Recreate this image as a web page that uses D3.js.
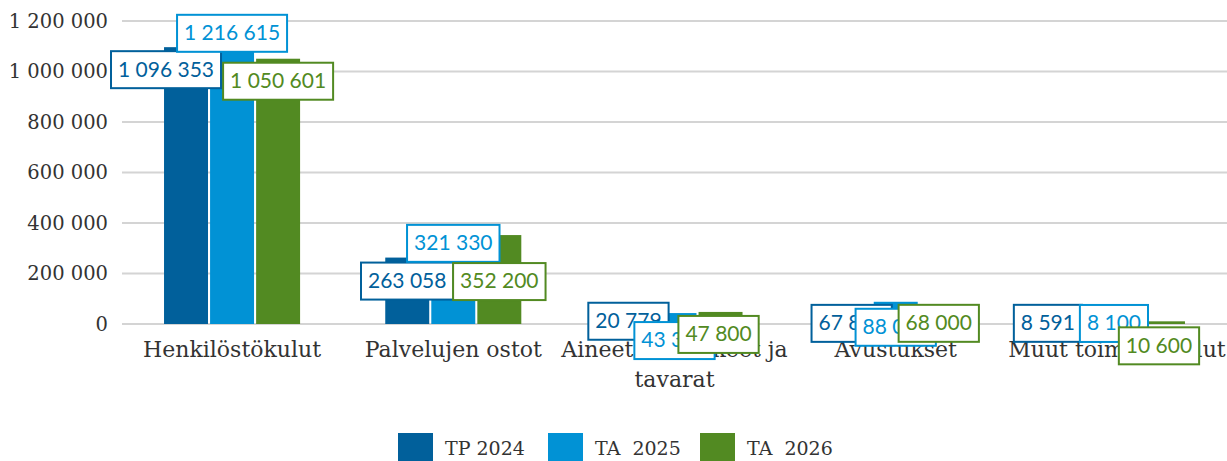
<!DOCTYPE html>
<html>
<head>
<meta charset="utf-8">
<script src="https://cdn.jsdelivr.net/npm/d3@7"></script>
<style>
  body { margin: 0; background: #fff; }
  svg { display: block; }
</style>
</head>
<body>
<script>
const categories = ["Henkilöstökulut", "Palvelujen ostot", "Aineet, tarvikkeet ja tavarat", "Avustukset", "Muut toimintakulut"];
const seriesNames = ["TP 2024", "TA  2025", "TA  2026"];
const tp2024 = [1096353, 263058, 20779, 67850, 8591];
const ta2025 = [1216615, 321330, 43300, 88000, 8100];
const ta2026 = [1050601, 352200, 47800, 68000, 10600];
const yTicks = [0, 200000, 400000, 600000, 800000, 1000000, 1200000];
const colors = ["#01609b", "#0192d5", "#528a22"];
// label nudges [dx, dy] from bar top, per series per category
const labelNudge = [
    [[-20, 22], [0, 23], [0, 2], [2, 16], [-23, 1]],
    [[0, 16], [0, 0], [0, 27], [0, 25], [-3, 1]],
    [[0, 22], [0, 46], [-2, 22], [-3, 16], [-4, 24]]
];

const width = 1227, height = 461;
const margin = { left: 122, right: 0, top: 21, bottom: 137 };
const values = [tp2024, ta2025, ta2026];
const serif = "DejaVu Serif, serif";

const svg = d3.select("body").append("svg").attr("width", width).attr("height", height);

const x = d3.scaleBand().domain(categories).range([margin.left, width]).paddingInner(0.385).paddingOuter(0.19);
const xs = d3.scaleBand().domain(d3.range(3)).range([0, x.bandwidth()]).paddingInner(0.045);
const y = d3.scaleLinear().domain([0, 1200000]).range([324, 21]);

const fmt = d => d3.format(",")(d).replace(/,/g, " ");

// grid
svg.append("g").selectAll("line").data(yTicks).join("line")
    .attr("x1", margin.left).attr("x2", width)
    .attr("y1", d => y(d)).attr("y2", d => y(d))
    .attr("stroke", "#d4d4d4").attr("stroke-width", 2);

// y axis labels
const yAxis = d3.axisLeft(y).tickValues(yTicks).tickFormat(fmt).tickSize(0).tickPadding(14);
svg.append("g").attr("transform", `translate(${margin.left},0)`).call(yAxis)
    .call(g => g.select(".domain").remove())
    .selectAll("text")
    .attr("font-family", serif).attr("font-size", 19.5).attr("fill", "#333");

// bars
const groups = svg.append("g").selectAll("g").data(categories).join("g")
    .attr("transform", d => `translate(${x(d)},0)`);
groups.selectAll("rect").data((c, i) => values.map((s, k) => ({ k, v: s[i] }))).join("rect")
    .attr("x", d => xs(d.k)).attr("width", xs.bandwidth())
    .attr("y", d => y(d.v)).attr("height", d => y(0) - y(d.v))
    .attr("fill", d => colors[d.k]);

// category labels
const xAxis = svg.append("g").attr("transform", `translate(0,${y(0)})`)
    .call(d3.axisBottom(x).tickSize(0).tickPadding(17));
xAxis.select(".domain").remove();
xAxis.selectAll("text")
    .attr("font-family", serif).attr("font-size", 22).attr("fill", "#333")
    .each(function (d) {
        if (d === "Aineet, tarvikkeet ja tavarat") {
            const t = d3.select(this).text(null);
            t.append("tspan").attr("x", 0).attr("dy", "0.71em").text("Aineet, tarvikkeet ja");
            t.append("tspan").attr("x", 0).attr("dy", "1.4em").text("tavarat");
            t.attr("dy", null);
        }
    });

// data labels, drawn series by series so later ones cover earlier
values.forEach((s, k) => {
    s.forEach((v, i) => {
        const cx = x(categories[i]) + xs(k) + xs.bandwidth() / 2 + labelNudge[k][i][0];
        const cy = y(v) + labelNudge[k][i][1];
        const g = svg.append("g").attr("transform", `translate(${cx},${cy})`);
        const rect = g.append("rect").attr("fill", "#fff").attr("stroke", colors[k]).attr("stroke-width", 2);
        const t = g.append("text").attr("text-anchor", "middle").attr("dy", "0.35em")
            .attr("font-family", "Lato, sans-serif").attr("font-size", 21).attr("fill", colors[k])
            .text(fmt(v));
        const w = t.node().getComputedTextLength() + 14;
        rect.attr("x", -w / 2).attr("y", -18).attr("width", w).attr("height", 37);
    });
});

// legend
const legend = svg.append("g").attr("transform", "translate(398,433)");
const legendX = [0, 150, 302];
seriesNames.forEach((n, k) => {
    const g = legend.append("g").attr("transform", `translate(${legendX[k]},0)`);
    g.append("rect").attr("width", 35).attr("height", 30).attr("fill", colors[k]);
    g.append("text").attr("x", 47).attr("y", 22)
        .attr("font-family", serif).attr("font-size", 19).attr("fill", "#333")
        .attr("xml:space", "preserve").style("white-space", "pre")
        .text(n);
});
</script>
</body>
</html>
